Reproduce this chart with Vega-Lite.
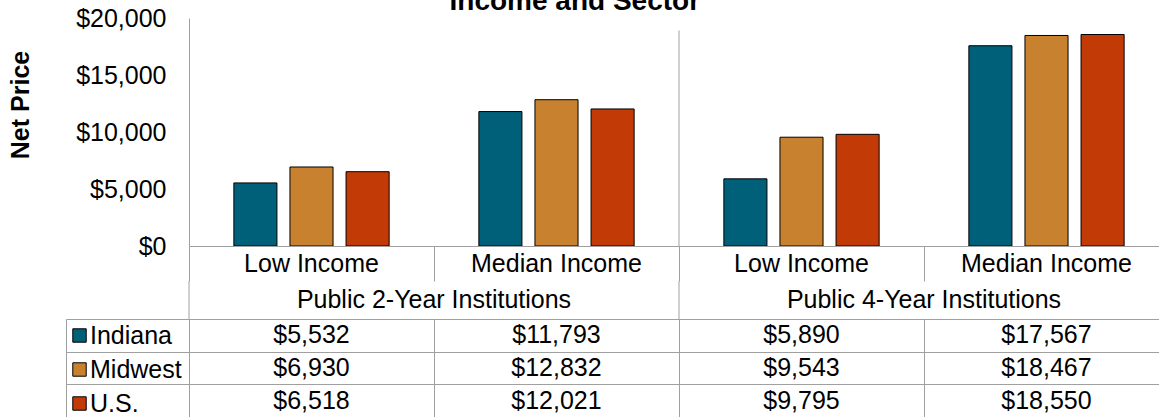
{
  "$schema": "https://vega.github.io/schema/vega-lite/v6.json",
  "padding": {"left": 8, "top": -13, "right": 0, "bottom": 0},
  "background": "white",
  "config": {"font": "Liberation Sans", "view": {"stroke": null}},
  "title": {"text": "Income and Sector", "fontSize": 28, "fontWeight": "bold", "font": "Liberation Sans", "color": "black", "anchor": "middle", "offset": -9.5, "dx": -14},
  "datasets": {
    "net": [
      {"group": "2-Year Low", "sector": "Public 2-Year Institutions", "income": "Low Income", "region": "Indiana", "value": 5532},
      {"group": "2-Year Low", "sector": "Public 2-Year Institutions", "income": "Low Income", "region": "Midwest", "value": 6930},
      {"group": "2-Year Low", "sector": "Public 2-Year Institutions", "income": "Low Income", "region": "U.S.", "value": 6518},
      {"group": "2-Year Median", "sector": "Public 2-Year Institutions", "income": "Median Income", "region": "Indiana", "value": 11793},
      {"group": "2-Year Median", "sector": "Public 2-Year Institutions", "income": "Median Income", "region": "Midwest", "value": 12832},
      {"group": "2-Year Median", "sector": "Public 2-Year Institutions", "income": "Median Income", "region": "U.S.", "value": 12021},
      {"group": "4-Year Low", "sector": "Public 4-Year Institutions", "income": "Low Income", "region": "Indiana", "value": 5890},
      {"group": "4-Year Low", "sector": "Public 4-Year Institutions", "income": "Low Income", "region": "Midwest", "value": 9543},
      {"group": "4-Year Low", "sector": "Public 4-Year Institutions", "income": "Low Income", "region": "U.S.", "value": 9795},
      {"group": "4-Year Median", "sector": "Public 4-Year Institutions", "income": "Median Income", "region": "Indiana", "value": 17567},
      {"group": "4-Year Median", "sector": "Public 4-Year Institutions", "income": "Median Income", "region": "Midwest", "value": 18467},
      {"group": "4-Year Median", "sector": "Public 4-Year Institutions", "income": "Median Income", "region": "U.S.", "value": 18550}
    ]
  },
  "spacing": 0,
  "bounds": "flush",
  "vconcat": [
    {
      "width": 980,
      "height": 228,
      "data": {"name": "net"},
      "layer": [
        {
          "mark": {"type": "bar", "stroke": "black", "strokeWidth": 1},
          "encoding": {
            "x": {"field": "group", "type": "nominal", "scale": {"domain": ["2-Year Low", "2-Year Median", "4-Year Low", "4-Year Median"], "paddingInner": 0, "paddingOuter": 0}, "axis": null},
            "xOffset": {"field": "region", "type": "nominal", "scale": {"domain": ["Indiana", "Midwest", "U.S."], "paddingInner": 0.232, "paddingOuter": 0.8}},
            "y": {"field": "value", "type": "quantitative", "scale": {"domain": [0, 20000], "nice": false},
              "axis": {"values": [0, 5000, 10000, 15000, 20000], "format": "$,.0f", "labelFontSize": 25, "labelColor": "black", "labelPadding": 23, "ticks": false, "grid": false, "domainColor": "#A0A0A0", "title": "Net Price", "titleFontSize": 25, "titleFontWeight": "bold", "titleColor": "black", "titlePadding": 42, "titleY": 86.5}},
            "color": {"field": "region", "type": "nominal", "scale": {"domain": ["Indiana", "Midwest", "U.S."], "range": ["#00607A", "#C8812E", "#C23A06"]},
              "legend": {"orient": "none", "legendX": -122, "legendY": 305, "title": null, "symbolType": "square", "symbolSize": 180, "symbolStrokeColor": "black", "symbolStrokeWidth": 1, "labelFontSize": 25, "labelColor": "black", "labelOffset": -2, "rowPadding": 8, "padding": 0}}
          }
        },
        {
          "transform": [{"filter": "datum.group == '4-Year Low' && datum.region == 'Indiana'"}],
          "mark": {"type": "rule", "color": "#A0A0A0", "strokeWidth": 1},
          "encoding": {
            "x": {"field": "group", "type": "nominal", "bandPosition": 0},
            "y": {"datum": 18900},
            "y2": {"datum": 0}
          }
        }
      ]
    },
    {
      "width": 980,
      "height": 35,
      "data": {"name": "net"},
      "transform": [{"filter": "datum.region == 'Indiana'"}],
      "mark": {"type": "text", "fontSize": 25, "color": "black", "baseline": "middle"},
      "encoding": {
        "x": {"field": "group", "type": "nominal", "scale": {"domain": ["2-Year Low", "2-Year Median", "4-Year Low", "4-Year Median"], "paddingInner": 0, "paddingOuter": 0},
          "axis": {"orient": "top", "title": null, "labels": false, "ticks": false, "domain": true, "domainColor": "#A0A0A0", "grid": true, "gridColor": "#A0A0A0", "tickBand": "extent"}},
        "text": {"field": "income"}
      }
    },
    {
      "width": 980,
      "height": 38,
      "data": {"name": "net"},
      "layer": [
        {
          "transform": [{"filter": "datum.region == 'Indiana' && datum.income == 'Median Income'"}],
          "mark": {"type": "text", "fontSize": 25, "color": "black", "baseline": "middle"},
          "encoding": {
            "x": {"field": "group", "type": "nominal", "bandPosition": 0, "scale": {"domain": ["2-Year Low", "2-Year Median", "4-Year Low", "4-Year Median"], "paddingInner": 0, "paddingOuter": 0}, "axis": null},
            "text": {"field": "sector"}
          }
        },
        {
          "transform": [{"filter": "datum.region == 'Indiana' && datum.income == 'Low Income'"}],
          "mark": {"type": "rule", "color": "#A0A0A0", "strokeWidth": 1},
          "encoding": {
            "x": {"field": "group", "type": "nominal", "bandPosition": 0}
          }
        }
      ]
    },
    {
      "width": 980,
      "height": 98,
      "data": {"name": "net"},
      "layer": [
        {
          "mark": {"type": "text", "fontSize": 25, "color": "black", "baseline": "middle"},
          "encoding": {
            "x": {"field": "group", "type": "nominal", "scale": {"domain": ["2-Year Low", "2-Year Median", "4-Year Low", "4-Year Median"], "paddingInner": 0, "paddingOuter": 0},
              "axis": {"orient": "top", "title": null, "labels": false, "ticks": false, "domain": false, "grid": true, "gridColor": "#A0A0A0", "tickBand": "extent"}},
            "y": {"field": "region", "type": "nominal", "scale": {"domain": ["Indiana", "Midwest", "U.S."], "paddingInner": 0, "paddingOuter": 0},
              "axis": {"title": null, "labels": false, "ticks": true, "tickBand": "extent", "tickSize": 123, "tickColor": "#A0A0A0", "grid": true, "gridColor": "#A0A0A0", "domain": true, "domainColor": "#A0A0A0"}},
            "text": {"field": "value", "type": "quantitative", "format": "$,.0f"}
          }
        },
        {
          "transform": [{"filter": "datum.group == '2-Year Low'"}],
          "mark": {"type": "rule", "opacity": 0},
          "encoding": {
            "y": {"field": "region", "type": "nominal", "scale": {"domain": ["Indiana", "Midwest", "U.S."], "paddingInner": 0, "paddingOuter": 0},
              "axis": {"orient": "left", "offset": 123, "title": null, "labels": false, "ticks": false, "grid": false, "domain": true, "domainColor": "#A0A0A0"}}
          }
        }
      ],
      "resolve": {"scale": {"y": "independent"}, "axis": {"y": "independent"}}
    }
  ]
}
